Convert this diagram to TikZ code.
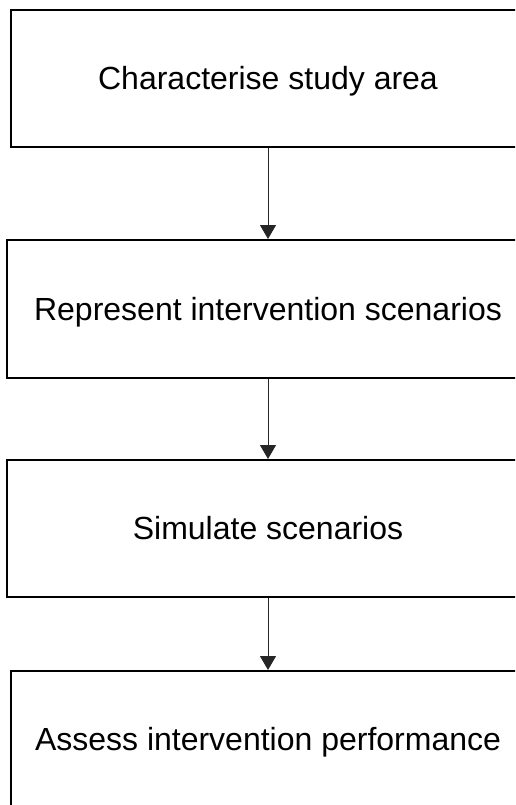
\documentclass[tikz,border=0pt]{standalone}
\usepackage{fontspec}
\setmainfont{Liberation Sans}
\usetikzlibrary{arrows.meta}
\begin{document}
\begin{tikzpicture}[x=1pt,y=-1pt,
  stage/.style={draw=black, line width=2pt, rectangle, inner sep=0pt,
    font=\fontsize{32}{38}\selectfont, text=black,
    text height=22.9pt, text depth=0pt},
  flow/.style={draw=black!85, line width=1pt,
    -{Triangle[width=16pt,length=14pt]}}]
  \useasboundingbox (0,0) rectangle (515,805);
  \clip (0,0) rectangle (515,805);
  \node[stage, minimum width=514pt, minimum height=137pt] (s1) at (268,78.5) {Characterise study area};
  \node[stage, minimum width=522pt, minimum height=138pt] (s2) at (268,309) {Represent intervention scenarios};
  \node[stage, minimum width=522pt, minimum height=137pt] (s3) at (268,528.5) {Simulate scenarios};
  \node[stage, minimum width=514pt, minimum height=137pt] (s4) at (268,739.5) {Assess intervention performance};
  \draw[flow] (s1.south) -- (s2.north);
  \draw[flow] (s2.south) -- (s3.north);
  \draw[flow] (s3.south) -- (s4.north);
\end{tikzpicture}
\end{document}
